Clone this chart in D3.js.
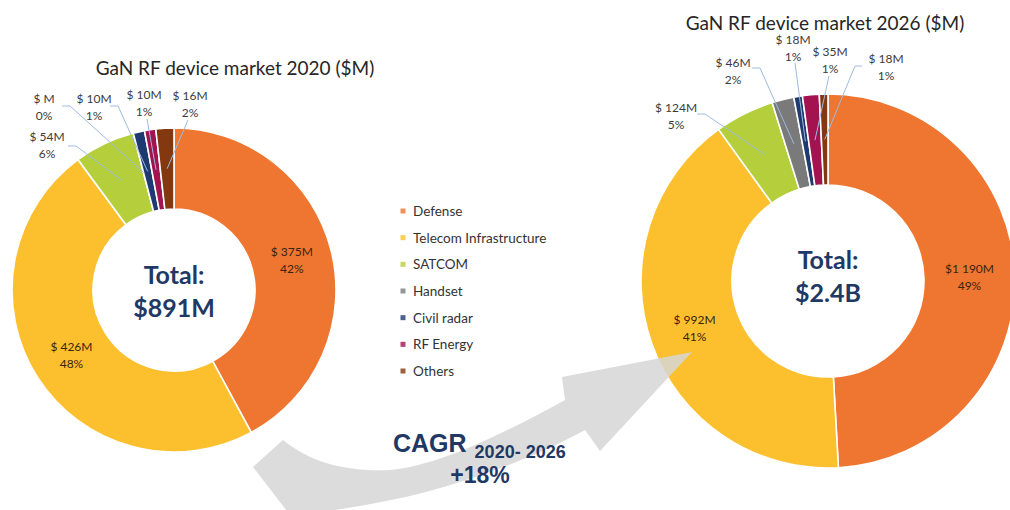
<!DOCTYPE html>
<html>
<head>
<meta charset="utf-8">
<script src="https://cdn.jsdelivr.net/npm/d3@7"></script>
<style>
    body { margin: 0; background: #fff; }
    svg { display: block; font-family: Lato, "Open Sans", sans-serif; }
</style>
</head>
<body>
<div id="chart"></div>
<script>
// data
const categories = ["Defense", "Telecom Infrastructure", "SATCOM", "Handset", "Civil radar", "RF Energy", "Others"];
const values2020 = [375, 426, 54, 0, 10, 10, 16];
const values2026 = [1190, 992, 124, 46, 18, 35, 18];
const titles = ["GaN RF device market 2020 ($M)", "GaN RF device market 2026 ($M)"];
const cagrYears = "2020- 2026";
const cagrValue = "+18%";

const colors = ["#ee7630", "#fcc02e", "#b5cf3c", "#7a7a7a", "#1f3a70", "#a3134f", "#84380f"];

// where the callout labels of the thin slices sit
const callouts2020 = {
    "SATCOM":      { x: 47,  y: 145, from: [68, 146], elbow: [76, 146] },
    "Handset":     { x: 44,  y: 107, from: [62, 106], elbow: [70, 106] },
    "Civil radar": { x: 94,  y: 107, from: [110, 106], elbow: [118, 106] },
    "RF Energy":   { x: 144, y: 103, from: [147, 119] },
    "Others":      { x: 190, y: 104, from: [188, 120] }
};
const callouts2026 = {
    "SATCOM":      { x: 676, y: 116, from: [697, 114], elbow: [705, 114] },
    "Handset":     { x: 733, y: 71,  from: [752, 68], elbow: [760, 68] },
    "Civil radar": { x: 793, y: 48,  from: [795, 63] },
    "RF Energy":   { x: 830, y: 60,  from: [829, 76] },
    "Others":      { x: 886, y: 67,  from: [862, 66], elbow: [855, 66] }
};

const navy = "#1f3864";
const fmt = d3.formatLocale({ decimal: ".", thousands: " ", grouping: [3], currency: ["$", ""] }).format(",");

class Donut {
    constructor(svg, opts) {
        this.svg = svg;
        this.opts = opts;
        this.initVis();
    }

    initVis() {
        let vis = this;
        let o = vis.opts;

        vis.g = vis.svg.append("g")
                    .attr("transform", `translate(${o.cx}, ${o.cy})`);

        vis.arc = d3.arc().innerRadius(o.inner).outerRadius(o.outer);
        vis.midArc = d3.arc().innerRadius((o.inner + o.outer) / 2).outerRadius((o.inner + o.outer) / 2);

        vis.pie = d3.pie().sort(null).value(d => d.value);

        vis.svg.append("text")
            .attr("x", o.titleX)
            .attr("y", o.titleY)
            .attr("text-anchor", "middle")
            .attr("dominant-baseline", "central")
            .style("font-size", "19px")
            .style("fill", "#262626")
            .text(o.title);

        vis.wrangleData();
    }

    wrangleData() {
        let vis = this;
        vis.data = categories.map((c, i) => ({ name: c, value: vis.opts.values[i], color: colors[i] }));
        vis.total = d3.sum(vis.data, d => d.value);
        vis.updateVis();
    }

    updateVis() {
        let vis = this;
        let o = vis.opts;
        let arcs = vis.pie(vis.data);

        vis.g.selectAll("path.slice")
            .data(arcs)
            .join("path")
            .attr("class", "slice")
            .attr("d", vis.arc)
            .attr("fill", d => d.data.color)
            .attr("stroke", "#fff")
            .attr("stroke-width", 1.6);

        let valueText = d => d.data.value === 0 ? "$ M"
            : (d.data.value >= 1000 ? "$" : "$ ") + fmt(d.data.value) + "M";
        let pctText = d => Math.round(d.data.value / vis.total * 100) + "%";

        // big slices: label inside
        let inside = arcs.filter(d => !o.callouts[d.data.name]);
        let inG = vis.g.selectAll("g.inlabel")
            .data(inside)
            .join("g")
            .attr("class", "inlabel")
            .attr("transform", d => `translate(${vis.midArc.centroid(d)})`);

        inG.append("text").attr("y", -4.5).text(valueText);
        inG.append("text").attr("y", 12.5).text(pctText);
        inG.selectAll("text")
            .attr("text-anchor", "middle")
            .style("font-size", "12px")
            .style("fill", "#3a2410");

        // thin slices: callout with leader line
        let outside = arcs.filter(d => o.callouts[d.data.name]);

        vis.svg.selectAll(null)
            .data(outside)
            .join("polyline")
            .attr("points", d => {
                let c = o.callouts[d.data.name];
                let end = vis.midArc.centroid(d);
                let pts = [c.from];
                if (c.elbow) pts.push(c.elbow);
                pts.push([end[0] + o.cx, end[1] + o.cy]);
                return pts.map(p => p.join(",")).join(" ");
            })
            .attr("fill", "none")
            .attr("stroke", "#9dbbe0")
            .attr("stroke-width", 1);

        let outG = vis.svg.selectAll(null)
            .data(outside)
            .join("g")
            .attr("transform", d => `translate(${o.callouts[d.data.name].x}, ${o.callouts[d.data.name].y})`);

        outG.append("text").attr("y", -4.5).text(valueText);
        outG.append("text").attr("y", 12.5).text(pctText);
        outG.selectAll("text")
            .attr("text-anchor", "middle")
            .style("font-size", "12px")
            .style("fill", "#3b3b3b");

        // total in the hole
        let totalText = vis.total >= 1000 ? "$" + d3.format(".1f")(vis.total / 1000) + "B" : "$" + vis.total + "M";
        let tot = vis.g.append("g").attr("class", "total");
        tot.append("text")
            .attr("y", o.totalDy - 7)
            .text("Total:");
        tot.append("text")
            .attr("y", o.totalDy + 26)
            .text(totalText);
        tot.selectAll("text")
            .attr("text-anchor", "middle")
            .style("font-size", "25px")
            .style("font-weight", "bold")
            .style("fill", navy);
    }
}

const width = 1010, height = 510;
const svg = d3.select("#chart").append("svg")
              .attr("width", width)
              .attr("height", height);

new Donut(svg, {
    cx: 174, cy: 290, inner: 81, outer: 162,
    values: values2020, title: titles[0], titleX: 235, titleY: 67,
    callouts: callouts2020, totalDy: 1
});

new Donut(svg, {
    cx: 828, cy: 281, inner: 96, outer: 187,
    values: values2026, title: titles[1], titleX: 825, titleY: 22,
    callouts: callouts2026, totalDy: -5
});

// growth arrow
svg.append("path")
    .attr("d", "M253,467 L283,440 C310,462 345,472 390,470 C440,466 510,430 565,400 L562,377 L692,352 L600,451 L585,430 C545,452 500,470 440,488 C400,500 340,510 300,515 L290,515 Z")
    .attr("fill", "#d6d6d6")
    .attr("opacity", 0.85);

let cagr = svg.append("text")
    .attr("x", 393)
    .attr("y", 452)
    .style("font-family", "'Liberation Sans', Arial, sans-serif")
    .style("font-weight", "bold")
    .style("fill", navy);
cagr.append("tspan").style("font-size", "25px").text("CAGR");
cagr.append("tspan").attr("dx", 8).attr("dy", 6).style("font-size", "18px").text(cagrYears);

svg.append("text")
    .attr("x", 480)
    .attr("y", 483)
    .attr("text-anchor", "middle")
    .style("font-family", "'Liberation Sans', Arial, sans-serif")
    .style("font-weight", "bold")
    .style("font-size", "23px")
    .style("fill", navy)
    .text(cagrValue);

// legend
const legendY = d3.scalePoint().domain(categories).range([211, 371]);
const legend = svg.append("g").selectAll("g")
    .data(categories)
    .join("g")
    .attr("transform", d => `translate(403, ${legendY(d)})`);

legend.append("rect")
    .attr("x", -2.5).attr("y", -2.5)
    .attr("width", 5).attr("height", 5)
    .attr("fill", (d, i) => colors[i])
    .attr("opacity", 0.8);

legend.append("text")
    .attr("x", 10)
    .attr("dominant-baseline", "central")
    .style("font-size", "13.5px")
    .style("fill", "#333")
    .text(d => d);
</script>
</body>
</html>
